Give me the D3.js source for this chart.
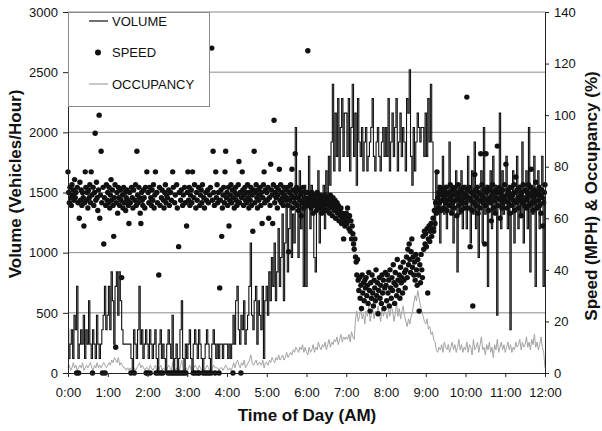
<!DOCTYPE html>
<html>
<head>
<meta charset="utf-8">
<script src="https://cdn.jsdelivr.net/npm/d3@7"></script>
<style>
body { margin: 0; background: #fff; }
svg { font-family: "Liberation Sans", Arial, sans-serif; }
.axis path, .axis line { stroke: #222; }
.axis text { font-size: 13px; fill: #111; }
.grid line { stroke: #8a8a8a; stroke-width: 1; }
.title { font-size: 17px; font-weight: bold; fill: #111; }
.legend text { font-size: 13px; fill: #111; }
</style>
</head>
<body>
<div id="chart"></div>
<script>
var timeLabels = ["0:00", "1:00", "2:00", "3:00", "4:00", "5:00", "6:00",
                  "7:00", "8:00", "9:00", "10:00", "11:00", "12:00"];

// volume, vehicles/hour, one value every 2 minutes from 0:00
var volume = [
  360,120,240,360,120,480,360,720,120,240,360,240,480,120,360,240,600,240,120,360,240,120,480,240,120,240,360,480,720,360,
  480,720,360,840,600,240,720,840,480,840,600,360,240,240,240,240,240,240,120,0,360,240,120,360,720,240,360,120,240,360,
  240,120,360,240,120,240,360,120,0,240,360,120,240,120,0,240,360,240,120,480,0,120,240,0,120,360,600,120,0,240,
  120,240,360,120,0,240,360,240,120,360,240,120,0,120,240,360,240,120,0,240,360,240,120,240,120,240,240,120,240,240,
  240,120,240,120,240,480,240,600,720,360,240,480,360,600,240,360,480,720,1080,480,360,600,720,240,600,480,360,720,120,600,
  720,480,840,600,960,720,1080,600,840,1200,720,960,1320,600,1080,1440,840,1200,1560,960,1320,1080,2040,1440,960,1680,1200,1440,720,1560,
  720,1440,1800,1200,1560,1320,960,840,1440,1680,1080,1440,1320,1560,1200,1680,1440,1800,1560,1920,2400,1680,2160,1800,2280,1680,2040,2280,1800,2160,
  2160,1800,2280,1680,2040,2400,1800,2160,1560,2280,1920,1800,2040,1680,1920,2040,1680,1800,1920,2040,2280,1800,1680,1920,2040,1800,1680,1920,2040,1800,
  2040,1800,2280,1680,1920,2160,1800,2040,2280,1680,1920,2160,1800,2040,1920,1680,2280,2160,2520,1800,1560,2040,1680,1920,2160,2040,1920,2040,2040,1800,
  2160,1800,2280,1920,2400,1920,1440,1200,1680,1320,1560,1080,1440,1800,1320,1560,1200,1440,1920,1320,1560,1080,1440,1680,840,1560,1320,1680,1200,1440,
  1560,1200,1800,1440,1080,1680,1320,1920,1200,1560,960,1440,1680,1080,2040,1320,1560,720,1440,1680,1200,1800,1320,1560,480,1440,2160,1200,1680,1320,
  1440,1800,1200,1560,360,1320,1680,1080,1440,1800,1200,1560,1320,1920,1080,1440,1680,1200,2040,840,1560,1320,1800,720,1440,1680,1200,1560,1800,720,
  1440
];

// occupancy, %, one value every 2 minutes
var occupancy = [
  2,3,1,2,4,2,3,1,2,3,2,4,1,2,3,2,3,4,2,1,3,2,4,2,3,2,3,4,3,2,
  3,4,3,5,4,6,5,4,6,3,4,3,2,2,1,2,1,2,1,0,2,1,2,3,4,2,3,2,1,2,
  2,1,3,2,1,2,3,1,0,2,3,1,2,1,0,2,3,2,1,4,1,1,2,0,1,3,5,1,0,2,
  1,2,3,1,0,2,3,2,1,3,2,1,0,1,2,3,2,1,1,2,3,2,2,2,1,2,2,1,2,3,
  2,1,2,1,2,4,2,4,5,3,2,4,3,5,2,3,4,5,7,4,3,4,5,3,4,4,3,5,2,4,
  4,3,5,4,6,5,4,6,5,7,5,6,7,5,6,8,6,7,8,7,9,8,10,9,8,10,9,11,8,10,
  8,7,10,8,9,11,8,10,9,12,10,9,11,10,12,9,11,13,10,12,11,13,12,14,11,13,15,12,14,13,
  14,13,15,12,16,14,13,21,24,20,22,25,21,23,19,24,22,26,20,23,25,21,24,22,26,23,20,25,22,24,
  23,21,25,22,26,24,20,23,27,22,25,21,24,26,22,20,18,21,19,22,24,27,30,28,32,29,26,24,22,20,
  19,21,17,18,15,16,13,12,9,8,10,9,11,8,12,10,9,11,8,10,12,9,11,8,10,13,9,11,8,10,
  9,12,8,11,10,7,13,9,10,12,8,11,14,9,10,7,11,9,12,8,10,6,11,9,13,8,10,12,9,11,
  8,10,12,9,11,8,10,9,12,10,11,13,9,12,10,11,14,10,12,9,13,11,15,10,12,9,11,14,10,8,
  2
];

// speed, mph, one value every minute
var speed = [
  78,70,66,72,68,65,73,69,71,67,75,68,70,0,72,66,0,60,74,67,71,65,70,68,57,66,78,72,67,70,
  64,71,68,73,66,78,69,0,72,65,70,93,67,74,68,63,71,100,60,69,86,66,0,72,50,68,0,65,73,67,
  70,66,72,64,69,75,67,71,65,53,68,73,10,66,70,62,72,68,65,71,67,37,69,64,72,66,70,63,68,71,
  67,65,58,70,66,0,72,68,64,71,0,67,73,65,86,69,66,72,68,62,58,70,67,65,71,68,64,72,0,78,
  0,70,66,72,0,68,65,71,67,73,64,69,78,0,70,66,0,38,72,65,0,68,71,0,67,64,70,73,66,69,
  68,0,71,65,0,70,67,0,78,72,0,66,69,0,73,64,0,49,70,0,67,71,0,65,69,0,72,66,0,57,
  70,78,67,72,65,69,71,66,78,0,68,73,0,64,70,67,0,72,0,65,69,71,66,73,0,68,64,0,70,67,
  0,71,66,0,69,72,0,126,67,86,70,65,0,78,68,73,66,70,0,33,67,71,53,64,69,72,66,78,86,68,
  70,65,72,57,67,69,73,66,71,0,68,64,70,72,67,65,69,73,82,66,70,0,68,78,71,65,69,72,67,70,
  66,73,68,64,70,67,72,65,69,55,71,86,66,70,73,68,64,71,67,69,72,65,70,58,68,73,78,66,71,67,
  70,67,72,60,68,65,81,71,69,58,73,98,66,70,68,72,64,69,71,79,67,73,66,70,68,65,72,69,67,71,
  68,72,65,47,70,67,73,69,79,64,71,68,66,85,70,72,65,68,63,71,67,69,61,70,66,72,64,68,70,65,
  67,70,125,65,68,66,69,64,70,67,62,68,65,69,66,63,70,67,64,68,65,69,66,62,68,64,67,65,69,63,
  66,63,68,65,67,62,69,64,66,61,68,65,63,67,60,64,66,62,65,59,63,61,64,58,62,60,52,61,57,59,
  62,58,64,60,56,61,55,59,52,57,54,50,48,52,45,43,38,44,36,32,37,29,34,25,38,31,35,28,36,33,
  37,30,34,27,39,32,24,35,29,38,31,26,36,33,28,40,30,35,23,32,37,29,34,27,38,31,36,25,33,39,
  34,28,38,31,36,26,40,33,29,37,32,42,35,27,39,34,30,44,36,32,38,29,41,35,37,31,43,36,39,33,
  40,45,37,48,42,50,44,39,47,52,41,45,38,43,36,46,40,34,44,38,24,42,35,46,40,37,53,48,55,50,
  54,49,56,31,52,57,51,55,58,53,56,60,55,63,58,66,62,78,68,64,70,66,72,63,69,67,71,64,68,70,
  66,72,63,69,67,70,65,73,68,62,71,66,69,64,72,67,70,61,68,73,65,69,67,71,63,70,66,72,68,64,
  69,66,107,71,64,68,72,49,67,70,63,26,69,66,77,71,65,68,72,62,70,67,64,85,69,73,66,68,71,50,
  65,85,70,67,72,63,68,71,66,59,69,73,64,70,67,62,71,68,88,65,70,72,60,67,69,64,71,66,68,73,
  67,81,69,64,71,66,70,62,68,72,65,69,67,73,63,70,76,66,71,68,64,72,67,69,61,70,66,73,68,65,
  71,67,64,70,68,73,65,69,72,79,66,70,63,68,71,66,74,69,64,70,67,72,65,69,62,71,68,57,66,70,
  73
];

var volumeTicks = [0, 500, 1000, 1500, 2000, 2500, 3000];
var rightTicks = [0, 20, 40, 60, 80, 100, 120, 140];
var legendItems = ["VOLUME", "SPEED", "OCCUPANCY"];

var svg = d3.select("#chart").append("svg")
    .attr("width", 602)
    .attr("height", 431);
var margin = { top: 12, right: 57, bottom: 58, left: 68 },
    width = 602 - margin.left - margin.right,
    height = 431 - margin.top - margin.bottom,
    g = svg.append("g").attr("transform", "translate(" + margin.left + "," + margin.top + ")");

var x = d3.scaleLinear().domain([0, 720]).range([0, width]);
var yVol = d3.scaleLinear().domain([0, 3000]).range([height, 0]);
var yRight = d3.scaleLinear().domain([0, 140]).range([height, 0]);

// gridlines
g.append("g")
    .attr("class", "grid")
    .selectAll("line")
    .data(volumeTicks.slice(1))
    .enter().append("line")
    .attr("x1", 0)
    .attr("x2", width)
    .attr("y1", function (d) { return yVol(d); })
    .attr("y2", function (d) { return yVol(d); });

var occLine = d3.line()
    .x(function (d, i) { return x(i * 2); })
    .y(function (d) { return yRight(d); });

var volLine = d3.line()
    .curve(d3.curveStep)
    .x(function (d, i) { return x(i * 2); })
    .y(function (d) { return yVol(d); });

g.append("path")
    .datum(occupancy)
    .attr("d", occLine)
    .attr("fill", "none")
    .attr("stroke", "#a3a3a3")
    .attr("stroke-width", 1);

g.append("path")
    .datum(volume)
    .attr("d", volLine)
    .attr("fill", "none")
    .attr("stroke", "#111")
    .attr("stroke-width", 1.1);

g.append("g")
    .selectAll("circle")
    .data(speed)
    .enter().append("circle")
    .attr("cx", function (d, i) { return x(i); })
    .attr("cy", function (d) { return yRight(d); })
    .attr("r", 2.7)
    .attr("fill", "#111");

// axes
g.append("g")
    .attr("class", "axis")
    .attr("transform", "translate(0," + height + ")")
    .call(d3.axisBottom(x)
        .tickValues(d3.range(0, 721, 60))
        .tickFormat(function (d) { return timeLabels[d / 60]; })
        .tickSizeInner(4).tickSizeOuter(0).tickPadding(11));

g.append("g")
    .attr("class", "axis")
    .call(d3.axisLeft(yVol)
        .tickValues(volumeTicks)
        .tickFormat(d3.format("d"))
        .tickSizeInner(5).tickSizeOuter(0).tickPadding(5));

g.append("g")
    .attr("class", "axis")
    .attr("transform", "translate(" + width + ",0)")
    .call(d3.axisRight(yRight)
        .tickValues(rightTicks)
        .tickFormat(d3.format("d"))
        .tickSizeInner(4).tickSizeOuter(0).tickPadding(5));

// titles
svg.append("text")
    .attr("class", "title")
    .attr("text-anchor", "middle")
    .attr("x", 307)
    .attr("y", 421)
    .text("Time of Day (AM)");

svg.append("text")
    .attr("class", "title")
    .attr("text-anchor", "middle")
    .attr("transform", "translate(21,184) rotate(-90)")
    .text("Volume (Vehicles/Hour)");

svg.append("text")
    .attr("class", "title")
    .attr("text-anchor", "middle")
    .attr("transform", "translate(597,196) rotate(-90)")
    .text("Speed (MPH) & Occupancy (%)");

// legend
var legend = g.append("g").attr("class", "legend");
legend.append("rect")
    .attr("x", 0.5)
    .attr("y", 0.5)
    .attr("width", 141)
    .attr("height", 94)
    .attr("fill", "#fff")
    .attr("stroke", "#8a8a8a");

var item = legend.selectAll(".item")
    .data(legendItems)
    .enter().append("g")
    .attr("class", "item")
    .attr("transform", function (d, i) { return "translate(0," + (9 + i * 31.5) + ")"; });

item.append("text")
    .attr("x", 44)
    .attr("dy", "0.36em")
    .text(function (d) { return d; });

item.filter(function (d) { return d !== "SPEED"; })
    .append("line")
    .attr("x1", 21)
    .attr("x2", 40)
    .attr("stroke", function (d) { return d === "VOLUME" ? "#111" : "#a3a3a3"; })
    .attr("stroke-width", 1.2);

item.filter(function (d) { return d === "SPEED"; })
    .append("circle")
    .attr("cx", 30)
    .attr("r", 3)
    .attr("fill", "#111");
</script>
</body>
</html>
